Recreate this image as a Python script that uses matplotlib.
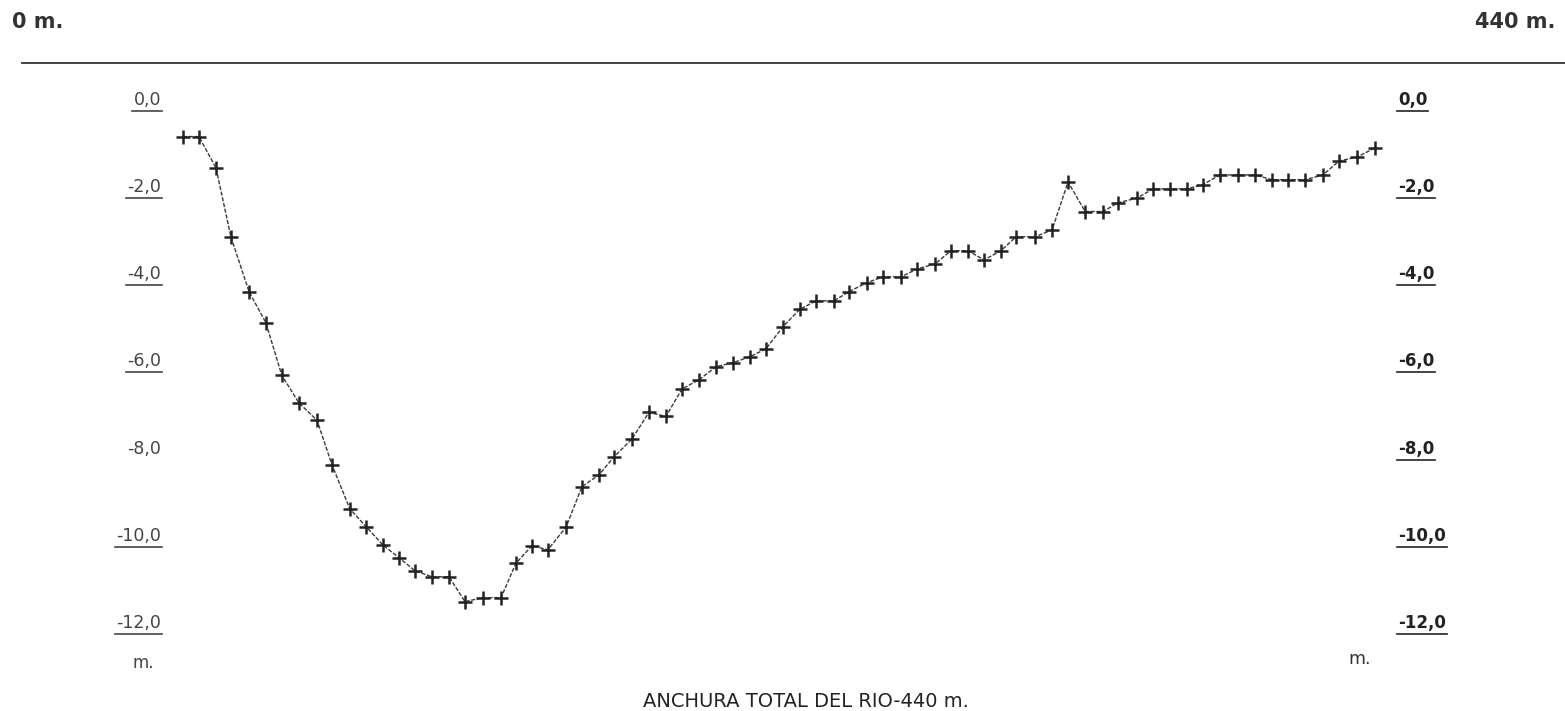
import matplotlib
matplotlib.use("Agg")
import matplotlib.pyplot as plt
import matplotlib.transforms as mtransforms
from matplotlib.lines import Line2D

plt.rcParams['font.family'] = ['DejaVu Sans']

# distancia desde la orilla izquierda (m) y profundidad (m)
dist = [0.0, 5.9, 12.2, 17.7, 24.4, 30.6, 36.5, 42.8, 49.5, 55.0,
        61.6, 67.6, 73.8, 79.7, 85.6, 91.9, 98.2, 104.1, 110.7, 117.4,
        122.9, 128.8, 134.7, 141.4, 147.3, 153.6, 159.1, 165.7, 172.0, 178.3,
        184.2, 190.5, 196.7, 203.0, 209.3, 215.2, 221.5, 227.7, 233.7, 240.3,
        245.8, 252.5, 258.4, 265.0, 270.9, 277.6, 283.5, 289.8, 295.7, 301.9,
        307.5, 314.5, 320.8, 326.7, 333.0, 339.6, 345.1, 352.2, 358.1, 364.3,
        370.6, 376.5, 382.8, 389.4, 395.7, 402.0, 407.9, 414.2, 420.8, 426.7,
        433.4, 440.0]
depth = [-0.84, -0.84, -1.56, -3.14, -4.40, -5.11, -6.32, -6.95, -7.35, -8.37,
         -9.38, -9.79, -10.21, -10.50, -10.80, -10.94, -10.94, -11.51, -11.42, -11.42,
         -10.63, -10.23, -10.32, -9.80, -8.87, -8.60, -8.19, -7.78, -7.17, -7.26,
         -6.63, -6.42, -6.12, -6.03, -5.89, -5.71, -5.20, -4.80, -4.61, -4.61,
         -4.40, -4.19, -4.06, -4.06, -3.88, -3.76, -3.46, -3.46, -3.67, -3.46,
         -3.14, -3.14, -2.98, -1.88, -2.56, -2.56, -2.36, -2.25, -2.04, -2.04,
         -2.04, -1.94, -1.72, -1.72, -1.72, -1.83, -1.83, -1.83, -1.72, -1.40,
         -1.31, -1.10]

yticks = [0, -2, -4, -6, -8, -10, -12]
ytick_labels = ['0,0', '-2,0', '-4,0', '-6,0', '-8,0', '-10,0', '-12,0']
left_underlined = [True, True, True, True, False, True, True]

fig = plt.figure(figsize=(15.65, 7.11), dpi=100)
ax = fig.add_axes([0.1169, 0.1238, 0.7617, 0.7356])
ax.set_xlim(0, 440)
ax.set_ylim(-12, 0)
ax.axis('off')

ax.plot(dist, depth, color='#3a3a3a', lw=1.0, ls=(0, (3, 1.2)),
        marker='+', markersize=10, markeredgewidth=1.8, mec='#222222',
        clip_on=False)

trans = mtransforms.blended_transform_factory(ax.transAxes, ax.transData)
left_txt = []
right_txt = []
for v, lab, ul in zip(yticks, ytick_labels, left_underlined):
    t = ax.text(-0.0185, v, lab, transform=trans, ha='right', va='center',
                fontsize=12.5, color='#444444')
    left_txt.append((t, ul))
    t2 = ax.text(1.0193, v, lab, transform=trans, ha='left', va='center',
                 fontsize=12, color='#222222', fontweight='bold')
    right_txt.append((t2, True))

ax.text(-0.0336, -0.0765, 'm.', transform=ax.transAxes, ha='center',
        va='center', fontsize=12, color='#444444')
ax.text(0.987, -0.069, 'm.', transform=ax.transAxes, ha='center',
        va='center', fontsize=12.5, color='#333333')

fig.text(0.0077, 0.969, '0 m.', ha='left', va='center', fontsize=15,
         fontweight='bold', color='#333333')
fig.text(0.9936, 0.969, '440 m.', ha='right', va='center', fontsize=15,
         fontweight='bold', color='#333333')
fig.add_artist(Line2D([0.014, 1.0], [0.9114, 0.9114], color='#333333',
                      lw=1.3, transform=fig.transFigure))

fig.text(0.515, 0.0127, 'ANCHURA TOTAL DEL RIO-440 m.', ha='center',
         va='center', fontsize=14, color='#222222')

# subrayado de las etiquetas
fig.canvas.draw()
r = fig.canvas.get_renderer()
inv = fig.transFigure.inverted()
for t, ul in left_txt + right_txt:
    if not ul:
        continue
    bb = t.get_window_extent(r)
    (x0, y0), (x1, _) = inv.transform([(bb.x0 - 1, bb.y0 - 2), (bb.x1 + 1, bb.y1)])
    fig.add_artist(Line2D([x0, x1], [y0, y0], color=t.get_color(), lw=1.2,
                          transform=fig.transFigure))

fig.savefig('out.png', dpi=100, facecolor='white')
